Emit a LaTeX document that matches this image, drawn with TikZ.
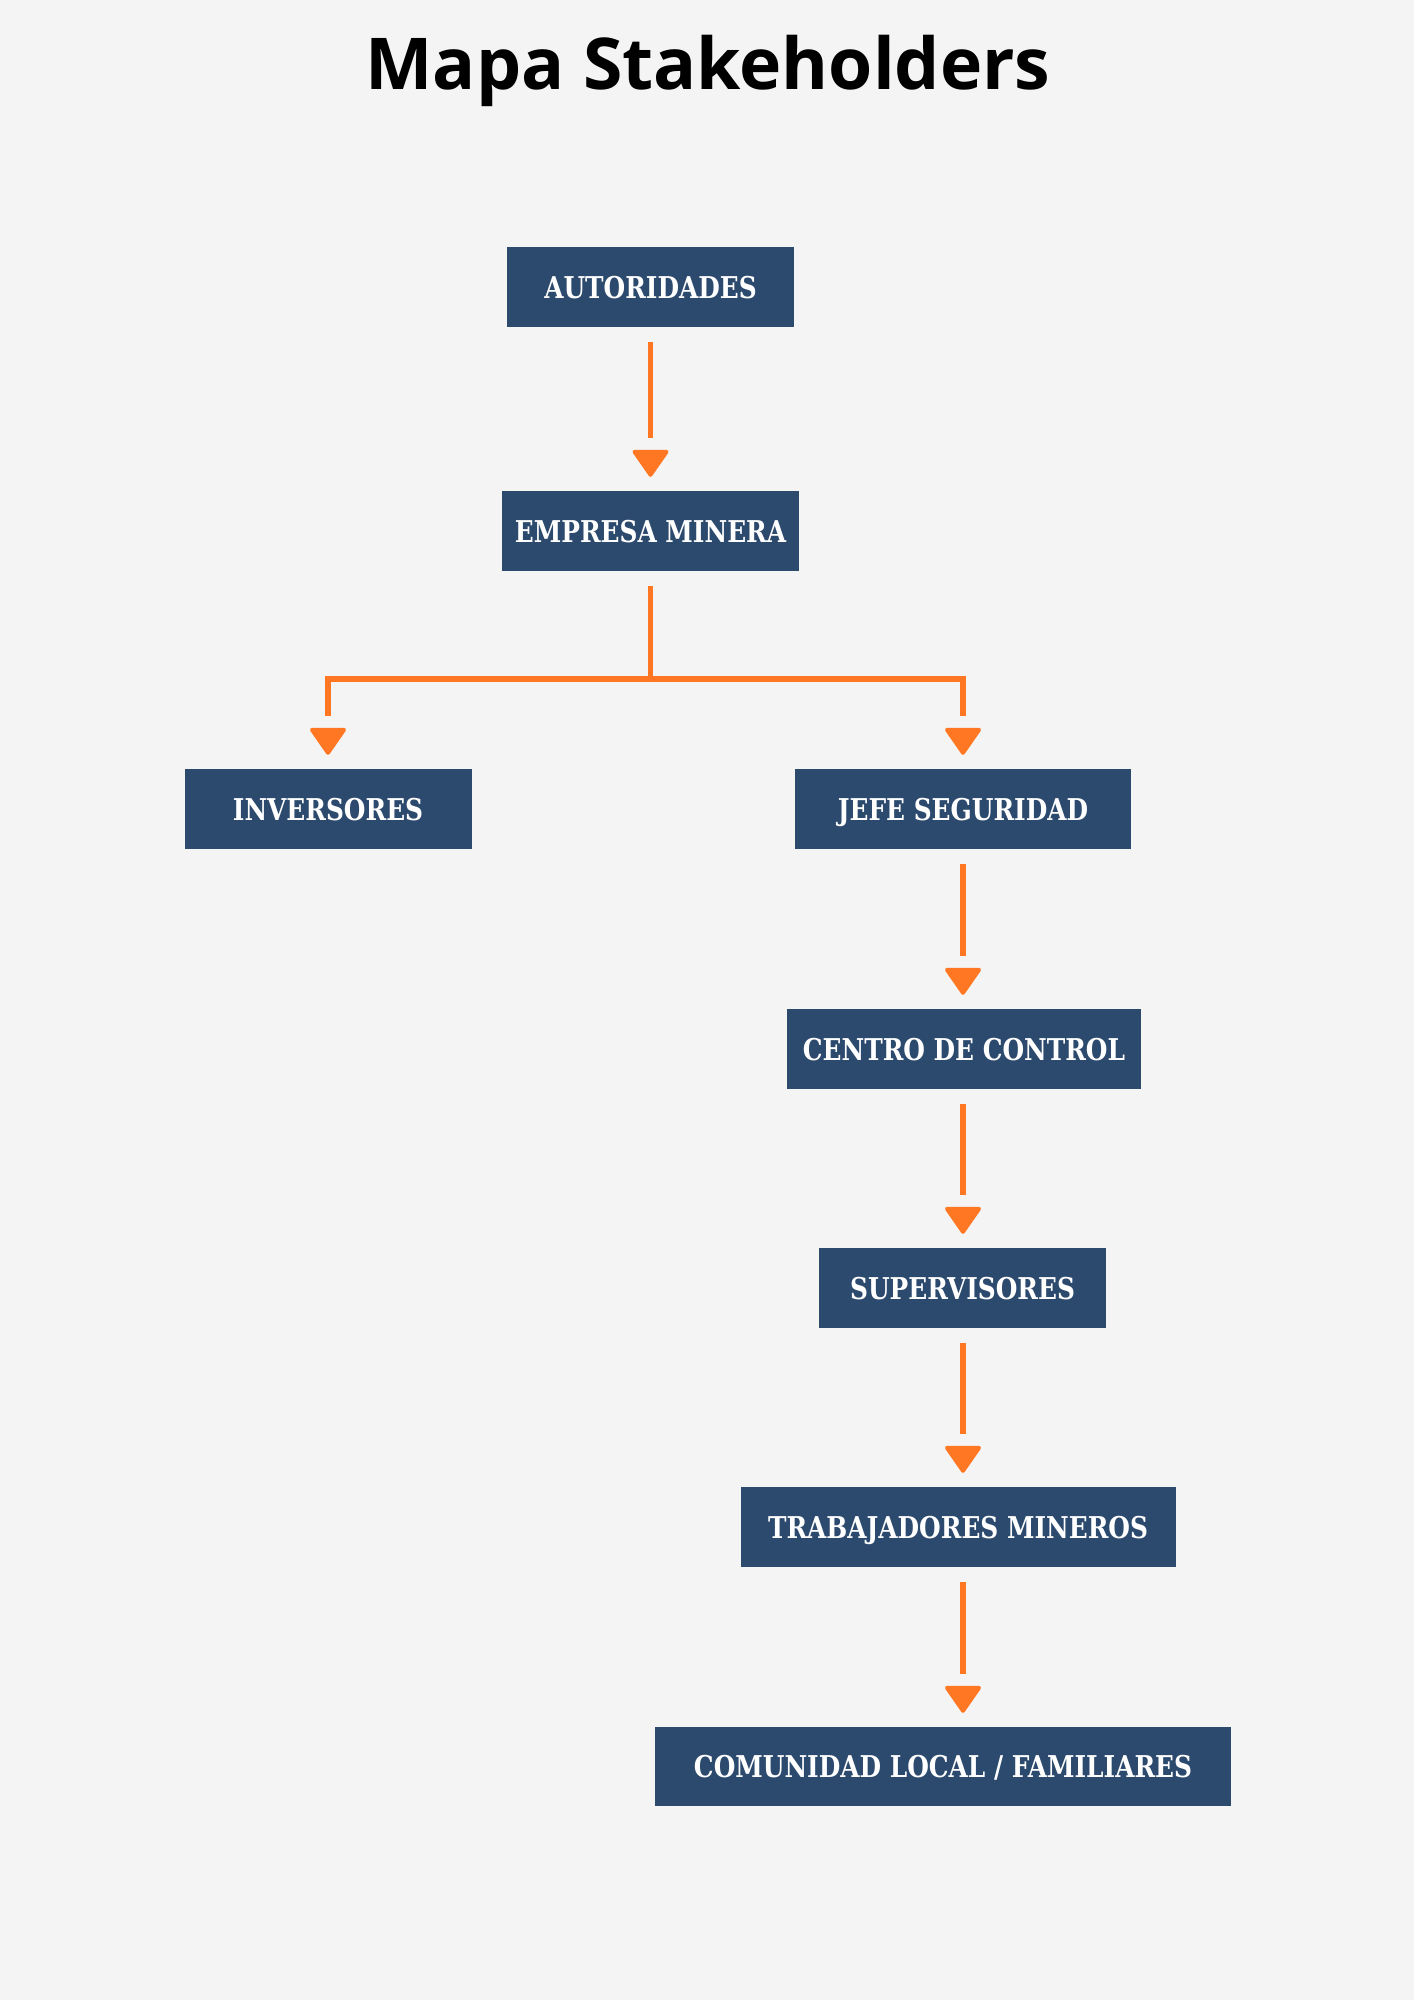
\documentclass[tikz,border=0pt]{standalone}
\usepackage{fontspec}
\newfontfamily\titlefont{Open Sans}
\newfontfamily\boxfont[FakeStretch=0.92]{DejaVu Serif Condensed}
\definecolor{bg}{HTML}{F4F4F4}
\definecolor{boxblue}{HTML}{2C4A6E}
\definecolor{linkorange}{HTML}{FF7722}
\begin{document}
\begin{tikzpicture}[x=1pt,y=-1pt,
  actor/.style={fill=boxblue, text=white, minimum height=80pt, inner sep=0pt,
    text height=22pt, text depth=0pt,
    font=\boxfont\bfseries\fontsize{30}{34}\selectfont},
  % shaft of a connector: starts 15pt below its source, stops 12pt short of the head
  link/.style={draw=linkorange, line width=5.5pt, shorten <=15pt, shorten >=53pt},
  trunk/.style={draw=linkorange, line width=5.5pt, shorten <=15pt},
  % rounded triangular head, its point 14pt above the target box
  headtip/.pic={\filldraw[linkorange, line width=4pt, line join=round]
    (0,-16) -- (-16,-39) -- (16,-39) -- cycle;}]
  \fill[bg] (0,0) rectangle (1414,2000);
  \useasboundingbox (0,0) rectangle (1414,2000);

  \node[font=\titlefont\bfseries\fontsize{71.5}{80}\selectfont, anchor=base] (title) at (708,89) {Mapa Stakeholders};

  \node[actor, minimum width=287pt] (aut) at (650.5,287) {AUTORIDADES};
  \node[actor, minimum width=297pt] (emp) at (650.5,531) {EMPRESA MINERA};
  \node[actor, minimum width=287pt] (inv) at (328,809) {INVERSORES};
  \node[actor, minimum width=336pt] (jefe) at (963,809) {JEFE SEGURIDAD};
  \node[actor, minimum width=354pt] (cen) at (964,1049) {CENTRO DE CONTROL};
  \node[actor, minimum width=287pt] (sup) at (962.5,1288) {SUPERVISORES};
  \node[actor, minimum width=435pt] (trab) at (958,1527) {TRABAJADORES MINEROS};
  \node[actor, minimum width=576pt, minimum height=79pt] (com) at (943,1766.5) {COMUNIDAD LOCAL / FAMILIARES};

  \coordinate (fork) at (650.5,679);

  \draw[link] (aut) -- (emp);
  \pic at (emp.north) {headtip};

  \draw[trunk] (emp.south) -- (fork);
  \draw[link, shorten <=0pt] (fork) -| (inv.north);
  \pic at (inv.north) {headtip};
  \draw[link, shorten <=0pt] (fork) -| (jefe.north);
  \pic at (jefe.north) {headtip};

  \draw[link] (jefe.south) -- (jefe.south |- cen.north);
  \pic at (jefe.south |- cen.north) {headtip};
  \draw[link] (jefe.south |- cen.south) -- (jefe.south |- sup.north);
  \pic at (jefe.south |- sup.north) {headtip};
  \draw[link] (jefe.south |- sup.south) -- (jefe.south |- trab.north);
  \pic at (jefe.south |- trab.north) {headtip};
  \draw[link] (jefe.south |- trab.south) -- (jefe.south |- com.north);
  \pic at (jefe.south |- com.north) {headtip};
\end{tikzpicture}
\end{document}
